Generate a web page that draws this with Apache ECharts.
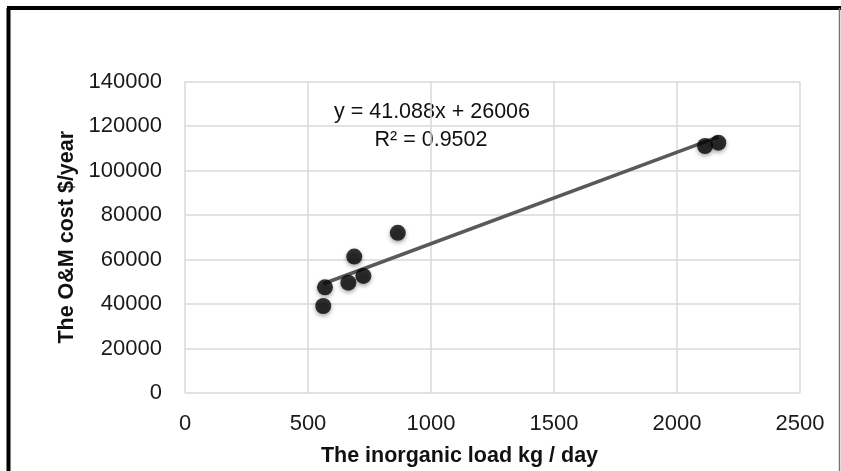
<!DOCTYPE html>
<html>
<head>
<meta charset="utf-8">
<script src="https://cdn.jsdelivr.net/npm/echarts@6/dist/echarts.min.js"></script>
<style>
html,body{margin:0;padding:0;background:#fff;}
#c{width:841px;height:471px;}
</style>
</head>
<body>
<div id="c"></div>
<script>
var loadX = [562, 569, 664, 688, 725, 865, 2114, 2168];
var costY = [39100, 47500, 49600, 61300, 52600, 72000, 111000, 112500];
var slope = 41.088;
var intercept = 26006;
var xTicks = [0, 500, 1000, 1500, 2000, 2500];
var yTicks = [0, 20000, 40000, 60000, 80000, 100000, 120000, 140000];
var eqText = 'y = 41.088x + 26006';
var r2Text = 'R² = 0.9502';
var xTitle = 'The inorganic load kg / day';
var yTitle = 'The O&M cost $/year';

var pts = loadX.map(function (x, i) { return [x, costY[i]]; });
var xmin = Math.min.apply(null, loadX), xmax = Math.max.apply(null, loadX);
var trend = [[xmin, slope * xmin + intercept], [xmax, slope * xmax + intercept]];

var FONT = 'Liberation Sans';
var chart = echarts.init(document.getElementById('c'));
chart.setOption({
  backgroundColor: '#fff',
  animation: false,
  grid: { left: 185, right: 41, top: 81.5, bottom: 78, outerBoundsMode: 'none', containLabel: false },
  xAxis: {
    type: 'value', min: xTicks[0], max: xTicks[xTicks.length - 1], interval: 500,
    name: xTitle, nameLocation: 'middle', nameGap: 52,
    nameTextStyle: { fontFamily: FONT, fontSize: 21.5, fontWeight: 'bold', color: '#111', padding: [0, 66, 0, 0] },
    axisLine: { show: false }, axisTick: { show: false },
    axisLabel: { fontFamily: FONT, fontSize: 22, color: '#1a1a1a', margin: 20, formatter: function (v) { return String(v); } },
    splitLine: { show: true, lineStyle: { color: '#d9d9d9', width: 1.5 } }
  },
  yAxis: {
    type: 'value', min: yTicks[0], max: yTicks[yTicks.length - 1], interval: 20000,
    name: yTitle, nameLocation: 'middle', nameGap: 104, nameRotate: 90,
    nameTextStyle: { fontFamily: FONT, fontSize: 21.5, fontWeight: 'bold', color: '#111' },
    axisLine: { show: false }, axisTick: { show: false },
    axisLabel: { fontFamily: FONT, fontSize: 22, color: '#1a1a1a', margin: 23, formatter: function (v) { return String(v); } },
    splitLine: { show: true, lineStyle: { color: '#d9d9d9', width: 1.5 } }
  },
  series: [
    {
      type: 'line', data: trend, symbol: 'none', silent: true, z: 2,
      lineStyle: { color: '#595959', width: 3.5 }
    },
    {
      type: 'scatter', data: pts, symbol: 'circle', symbolSize: 16, z: 3,
      itemStyle: { color: '#050505', shadowBlur: 4, shadowColor: 'rgba(0,0,0,0.45)', shadowOffsetY: 2 }
    }
  ],
  graphic: [
    { type: 'text', x: 432, y: 112, style: { text: eqText, align: 'center', verticalAlign: 'middle', font: '21.5px "Liberation Sans"', fill: '#111' } },
    { type: 'text', x: 431, y: 140, style: { text: r2Text, align: 'center', verticalAlign: 'middle', font: '21.5px "Liberation Sans"', fill: '#111' } },
    { type: 'line', shape: { x1: 8.5, y1: 8, x2: 8.5, y2: 471 }, style: { stroke: '#000', lineWidth: 4 } },
    { type: 'line', shape: { x1: 7, y1: 8, x2: 841, y2: 8 }, style: { stroke: '#000', lineWidth: 4 } },
    { type: 'line', shape: { x1: 839.5, y1: 8, x2: 839.5, y2: 471 }, style: { stroke: '#777', lineWidth: 1.5 } }
  ]
});
</script>
</body>
</html>
